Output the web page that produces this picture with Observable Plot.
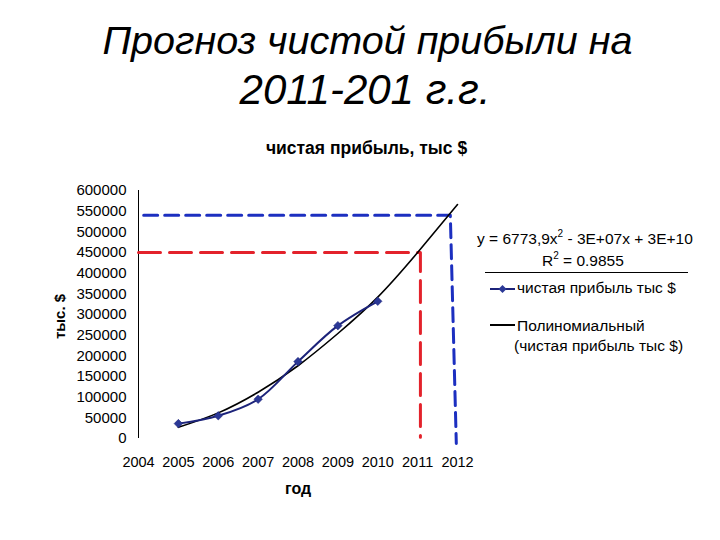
<!DOCTYPE html>
<html>
<head>
<meta charset="utf-8">
<script src="https://cdn.jsdelivr.net/npm/d3@7"></script>
<script src="https://cdn.jsdelivr.net/npm/@observablehq/plot@0.6"></script>
<style>
  html, body { margin: 0; padding: 0; background: #fff; }
  body { width: 720px; height: 540px; position: relative; overflow: hidden; font-family: "Liberation Sans", Arial, sans-serif; }
  .t { position: absolute; white-space: nowrap; color: #000; }
  .lg { font-size: 15.5px; }
  #chart { position: absolute; left: 0; top: 160px; }
</style>
</head>
<body>
<div class="t" id="title1" style="left:0;width:735px;text-align:center;top:18px;font-size:39.5px;font-style:italic;">Прогноз чистой прибыли на</div>
<div class="t" id="title2" style="left:0;width:730px;text-align:center;top:66px;font-size:42px;font-style:italic;">2011-201 г.г.</div>
<div class="t" style="left:0;width:733px;text-align:center;top:138px;font-size:17.5px;font-weight:bold;">чистая прибыль, тыс $</div>

<div class="t lg" style="left:477px;top:230px;">y = 6773,9x<sup style="font-size:10px;vertical-align:7px;line-height:0">2</sup> - 3E+07x + 3E+10</div>
<div class="t lg" style="left:542px;top:252px;">R<sup style="font-size:10px;vertical-align:7px;line-height:0">2</sup> = 0.9855</div>
<div style="position:absolute;left:485px;top:272px;width:203px;height:1px;background:#000;"></div>
<svg style="position:absolute;left:488px;top:282px" width="30" height="14"><line x1="2" x2="27" y1="7" y2="7" stroke="#1c237a" stroke-width="2"/><path d="M14.5,3 L18.5,7 L14.5,11 L10.5,7 Z" fill="#2b3896"/></svg>
<div class="t lg" style="left:517px;top:279px;">чистая прибыль тыс $</div>
<svg style="position:absolute;left:488px;top:318px" width="30" height="14"><line x1="2" x2="27" y1="7" y2="7" stroke="#000" stroke-width="2"/></svg>
<div class="t lg" style="left:517px;top:317px;">Полиномиальный</div>
<div class="t lg" style="left:514px;top:337px;">(чистая прибыль тыс $)</div>

<div id="chart"></div>
<script>
const years = [2005, 2006, 2007, 2008, 2009, 2010];
const profit = [36000, 55000, 95000, 186000, 273000, 332000];
const trendYears = [2005, 2006, 2007, 2008, 2009, 2010, 2011, 2012];
const trendValues = [27000, 62000, 112000, 176000, 254000, 342000, 450000, 566000];
const xTicks = [2004, 2005, 2006, 2007, 2008, 2009, 2010, 2011, 2012];
const yTicks = [0, 50000, 100000, 150000, 200000, 250000, 300000, 350000, 400000, 450000, 500000, 550000, 600000];
const redGuideX = [2004, 2011.07, 2011.07];
const redGuideY = [450000, 450000, 3000];
const blueGuideX = [2004.13, 2011.82, 2011.97];
const blueGuideY = [540000, 540000, -12000];

const data = years.map((y, i) => ({year: y, value: profit[i]}));
const trend = trendYears.map((y, i) => ({year: y, value: trendValues[i]}));
const red = redGuideX.map((x, i) => ({x, y: redGuideY[i]}));
const blue = blueGuideX.map((x, i) => ({x, y: blueGuideY[i]}));

const chart = Plot.plot({
  width: 720,
  height: 380,
  marginTop: 30,
  marginBottom: 102,
  marginLeft: 138,
  marginRight: 263,
  style: {fontFamily: "Liberation Sans, Arial, sans-serif", fontSize: "14px", color: "#000", background: "transparent", overflow: "visible"},
  x: {domain: [2004, 2012], label: null},
  y: {domain: [0, 600000], label: null},
  marks: [
    Plot.axisX({ticks: xTicks, tickFormat: d => String(d), tickSize: 0, tickPadding: 18, label: null, fontSize: 14.5}),
    Plot.axisY({ticks: yTicks, tickFormat: d => String(d), tickSize: 0, tickPadding: 12, label: null, fontSize: 15}),
    Plot.ruleX([2004], {stroke: "#000", strokeWidth: 1}),
    Plot.line(red, {x: "x", y: "y", stroke: "#e3222b", strokeWidth: 3, strokeDasharray: "22,9"}),
    Plot.line(blue, {x: "x", y: "y", stroke: "#1c2fc0", strokeWidth: 3, strokeDasharray: "14,7"}),
    Plot.line(trend, {x: "year", y: "value", stroke: "#000", strokeWidth: 1.6, curve: "natural"}),
    Plot.line(data, {x: "year", y: "value", stroke: "#1c237a", strokeWidth: 2, curve: "catmull-rom"}),
    Plot.dot(data, {x: "year", y: "value", symbol: "square", rotate: 45, r: 3.4, fill: "#2b3896", stroke: "#1c237a", strokeWidth: 0.5}),
    Plot.text(["тыс. $"], {frameAnchor: "left", textAnchor: "middle", dx: -78, dy: 2, rotate: -90, fontWeight: "bold", fontSize: 15}),
    Plot.text(["год"], {frameAnchor: "bottom", dy: 55, fontWeight: "bold", fontSize: 16})
  ]
});
document.getElementById("chart").appendChild(chart);
</script>
</body>
</html>
